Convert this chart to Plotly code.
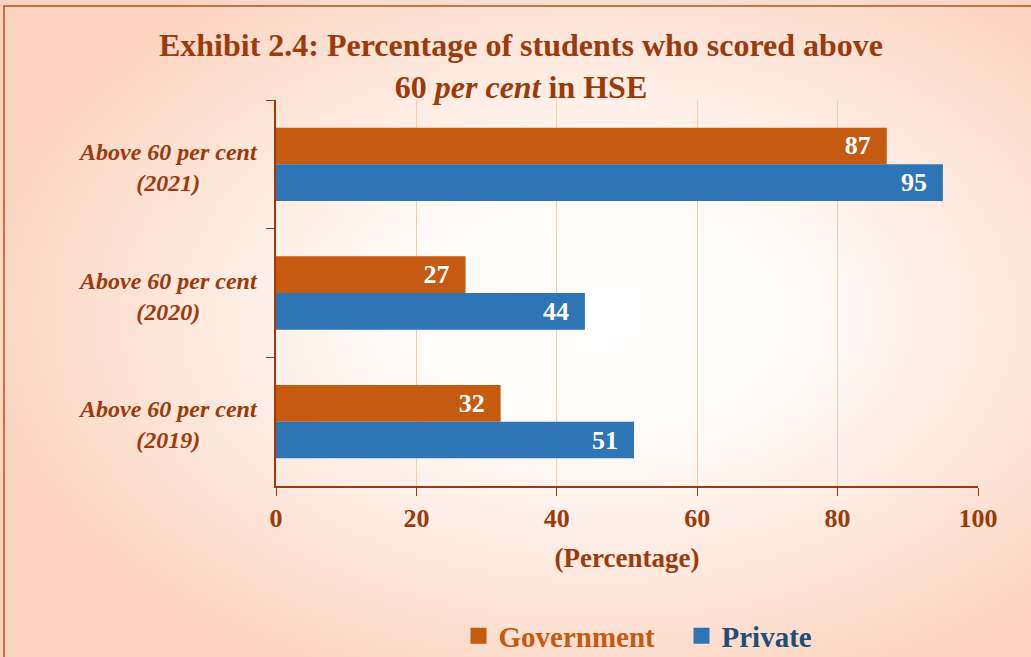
import base64
import plotly.graph_objects as go

categories = ["Above 60 per cent<br>(2021)", "Above 60 per cent<br>(2020)", "Above 60 per cent<br>(2019)"]
government = [87, 27, 32]
private = [95, 44, 51]
x_ticks = [0, 20, 40, 60, 80, 100]
series_names = ["Government", "Private"]

BROWN = "#9C3A0C"
ORANGE = "#C55A11"
BLUE = "#2E75B6"
NAVY = "#1F4E79"
FONT = "Liberation Serif"
PAD = "\u00a0\u00a0"

W, H = 1031, 657
L, R, T, B = 276, 53, 100, 171
pw, ph = W - L - R, H - T - B

svg = f'''<svg xmlns="http://www.w3.org/2000/svg" width="{W}" height="{H}" viewBox="0 0 {W} {H}" preserveAspectRatio="none">
<defs><radialGradient id="g" cx="0.58" cy="0.48" r="0.62" gradientUnits="objectBoundingBox">
<stop offset="0" stop-color="#FFFFFF"/><stop offset="0.35" stop-color="#FFFAF7"/>
<stop offset="1" stop-color="#FCD3BE"/></radialGradient></defs>
<rect x="0" y="0" width="{W}" height="{H}" fill="url(#g)"/></svg>'''
src = "data:image/svg+xml;base64," + base64.b64encode(svg.encode()).decode()

fig = go.Figure()
for vals, color in [(government, ORANGE), (private, BLUE)]:
    fig.add_trace(go.Bar(
        y=categories, x=vals, orientation="h", showlegend=False,
        marker=dict(color=color, line=dict(width=0)),
        text=[str(v) + PAD for v in vals], textposition="inside", insidetextanchor="end",
        textfont=dict(family=FONT, size=26, color="white", weight="bold"),
        hoverinfo="x+y",
    ))
# legend entries with large square swatches
legend_gap = ["\u00a0\u00a0\u00a0", ""]
for nm, color, tcolor, gap in [(series_names[0], ORANGE, ORANGE, legend_gap[0]),
                               (series_names[1], BLUE, NAVY, legend_gap[1])]:
    fig.add_trace(go.Scatter(
        x=[None], y=[None], mode="markers", showlegend=True,
        name="<span style='color:%s'>%s</span>%s" % (tcolor, nm, gap),
        marker=dict(symbol="square", size=16, color=color),
    ))

annotations = [
    dict(text="<b><i>%s</i></b>" % c, x=(168 - L) / pw, xref="paper", y=c, yref="y",
         showarrow=False, align="center", xanchor="center", yanchor="middle", yshift=-3,
         font=dict(family=FONT, size=24, color=BROWN))
    for c in categories
]

fig.update_layout(
    width=W, height=H,
    margin=dict(l=L, r=R, t=T, b=B, pad=0, autoexpand=False),
    paper_bgcolor="#FDE3D6", plot_bgcolor="rgba(0,0,0,0)",
    barmode="group", bargap=0.43, bargroupgap=0,
    showlegend=True,
    legend=dict(orientation="h", x=(638 - L) / pw, xanchor="center", y=-(636 - 486) / ph, yanchor="middle",
                font=dict(family=FONT, size=29, weight="bold"),
                bgcolor="rgba(0,0,0,0)", itemwidth=30, traceorder="normal"),
    title=dict(text="Exhibit 2.4: Percentage of students who scored above<br>60 <i>per cent</i> in HSE",
               x=521 / W, xref="container", xanchor="center", y=1 - 56 / H, yanchor="top",
               font=dict(family=FONT, size=32, color=BROWN, weight="bold")),
    annotations=annotations,
    images=[dict(source=src, xref="paper", yref="paper", x=-L / pw, y=1 + T / ph,
                 sizex=W / pw, sizey=H / ph, xanchor="left", yanchor="top",
                 sizing="stretch", layer="below")],
    shapes=[dict(type="rect", xref="paper", yref="paper",
                 x0=(4 - L) / pw, x1=(1040 - L) / pw, y0=-(H + 10 - T - ph) / ph, y1=1 + (T - 6) / ph,
                 line=dict(color="#B5531F", width=1.5), fillcolor="rgba(0,0,0,0)", layer="above")],
)

fig.update_xaxes(
    range=[0, 100], tickvals=x_ticks, ticktext=[str(v) for v in x_ticks],
    showgrid=True, gridcolor="#F8CBAD", gridwidth=1, zeroline=False,
    showline=True, linecolor=BROWN, linewidth=2,
    ticks="outside", ticklen=8, tickcolor=BROWN, tickwidth=1,
    tickfont=dict(family=FONT, size=26, color=BROWN, weight="bold"),
    title=dict(text="(Percentage)", font=dict(family=FONT, size=27, color=BROWN, weight="bold"), standoff=16),
)
fig.update_yaxes(
    autorange="reversed", showgrid=False, zeroline=False,
    showline=True, linecolor=BROWN, linewidth=2, showticklabels=False,
    ticks="outside", tickson="boundaries", ticklen=8, tickcolor=BROWN, tickwidth=1,
)

fig.write_html("out.html")
